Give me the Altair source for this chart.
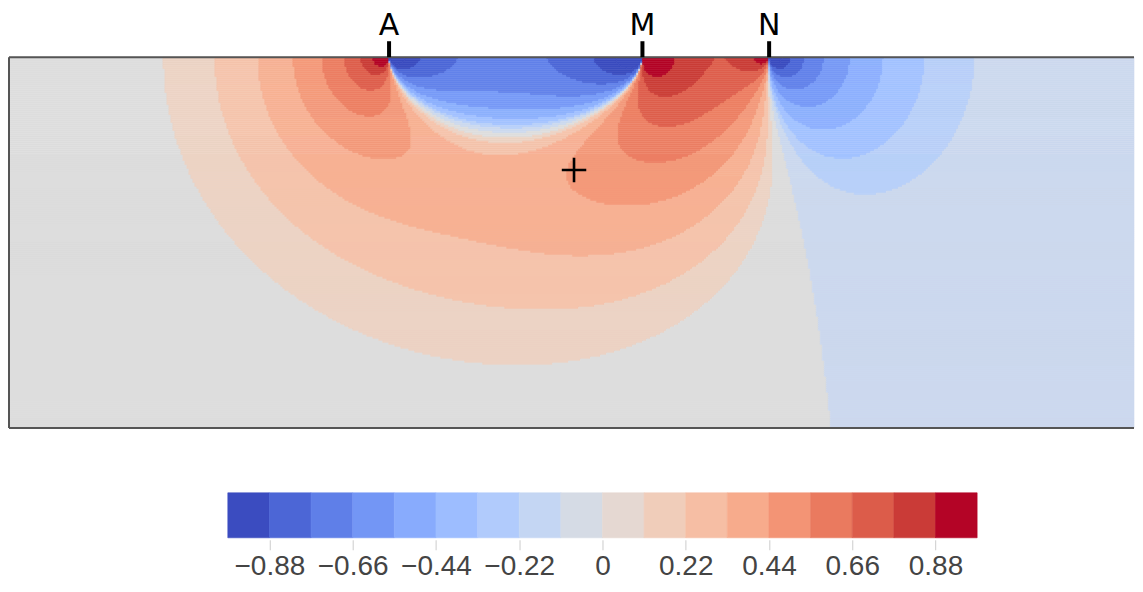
import json
import numpy as np
import pandas as pd
import altair as alt

# ---------------- data ----------------
ELECTRODE_X = [0.0, 2.0, 3.0]          # positions in electrode-spacing units
ELECTRODE_LABELS = ["A", "M", "N"]
SECTION_X_MIN = -3.0                    # left edge of the section
MARKER_X = [1.46]                       # the "+" marker
MARKER_Z = [-0.89]
# surface positions (left of A) where the colour steps to 1/9 and 2/9
ANCHOR_X = [-1.78, -1.32]
ANCHOR_LEVEL = [1 / 9, 2 / 9]
STEP_SCALE = 0.87                       # near-electrode colour steps read a bit tighter
N_BINS = 18
BAR_EDGES = [-1.0, -0.8889, -0.7778, -0.6667, -0.5556, -0.4444, -0.3333, -0.2222, -0.1111,
             0.0, 0.1111, 0.2222, 0.3333, 0.4444, 0.5556, 0.6667, 0.7778, 0.8889, 1.0]
TICK_VALUES = [-0.8889, -0.6667, -0.4444, -0.2222, 0.0, 0.2222, 0.4444, 0.6667, 0.8889]
TICK_LABELS = ["\u22120.88", "\u22120.66", "\u22120.44", "\u22120.22", "0", "0.22", "0.44", "0.66", "0.88"]

# ---------------- layout / style ----------------
W, H = 1126, 371          # plot area in px
K = 126.8                 # px per unit (isotropic)
CELL = 2                  # px per raster cell
xmin = SECTION_X_MIN
xmax = xmin + W / K
depth = H / K

COOLWARM = [
    (59, 76, 192), (68, 90, 204), (77, 104, 215), (87, 117, 225), (98, 130, 234),
    (108, 142, 241), (119, 154, 247), (130, 165, 251), (141, 176, 254), (152, 185, 255),
    (163, 194, 255), (174, 201, 253), (184, 208, 249), (194, 213, 244), (204, 217, 238),
    (213, 219, 230), (221, 221, 221), (229, 216, 209), (236, 211, 197), (241, 204, 184),
    (245, 196, 172), (247, 187, 160), (247, 177, 148), (247, 166, 135), (244, 154, 123),
    (241, 141, 111), (236, 127, 99), (229, 112, 88), (222, 96, 77), (213, 80, 66),
    (203, 62, 56), (192, 40, 47), (180, 4, 38)]


def coolwarm(p):
    p = min(max(p, 0.0), 1.0)
    t = np.linspace(0, 1, len(COOLWARM))
    arr = np.array(COOLWARM, dtype=float)
    rgb = [int(round(np.interp(p, t, arr[:, c]))) for c in range(3)]
    return "#%02x%02x%02x" % tuple(rgb)


LEVELS = list(range(-9, 9))
FIELD_COLORS = [coolwarm(0.5 + j / 16) for j in LEVELS]
BAR_COLORS = [coolwarm(i / 17) for i in range(N_BINS)]

# ---------------- sensitivity field (2.5D, pole-dipole A-MN) ----------------
xA, xM, xN = ELECTRODE_X
ys = np.concatenate([[0.0], np.logspace(-4, 2.6, 320)])


def sens(x, z):
    X = np.asarray(x, dtype=float)[:, None]
    q = ys[None, :] ** 2 + z ** 2
    dA, dM, dN = X - xA, X - xM, X - xN
    rA3 = (dA ** 2 + q) ** 1.5
    f = (dA * dM + q) / (rA3 * (dM ** 2 + q) ** 1.5) - (dA * dN + q) / (rA3 * (dN ** 2 + q) ** 1.5)
    return 2 * np.trapezoid(f, ys, axis=1)


# logarithmic colour steps, sign kept for values below the first step
S1 = sens([ANCHOR_X[0]], 0.004)[0]
S2 = sens([ANCHOR_X[1]], 0.004)[0]
step = np.log10(S2 / S1) * STEP_SCALE          # decades per colour step
tol = S1 / 10 ** (step * ANCHOR_LEVEL[0] * 9)  # value of level 0

xe = np.append(np.arange(0, W, CELL), W) / K + xmin
ze = np.append(np.arange(0, H, CELL), H) / K
xc = 0.5 * (xe[:-1] + xe[1:])
zc = 0.5 * (ze[:-1] + ze[1:])

rows = []
for i, z in enumerate(zc):
    s = sens(xc, z)
    mag = np.maximum(np.log10(np.maximum(np.abs(s), 1e-300) / tol) / step, 0.0)
    lv = np.where(s >= 0, np.floor(mag), -np.floor(mag) - 1)
    lv = np.clip(lv, -9, 8).astype(int)
    change = np.flatnonzero(np.diff(lv)) + 1
    starts = np.concatenate([[0], change])
    ends = np.concatenate([change, [len(lv)]])
    for a, b in zip(starts, ends):
        rows.append((xe[a], xe[b], -ze[i], -ze[i + 1], int(lv[a])))

field_df = pd.DataFrame(rows, columns=["x1", "x2", "z1", "z2", "level"])

xscale = alt.Scale(domain=[xmin, xmax], nice=False, zero=False)
yscale = alt.Scale(domain=[-depth, 0], nice=False, zero=False)
cscale = alt.Scale(domain=LEVELS, range=FIELD_COLORS)

field = alt.Chart(field_df).mark_rect(strokeWidth=0.6).encode(
    x=alt.X("x1:Q", scale=xscale, axis=None),
    x2="x2:Q",
    y=alt.Y("z1:Q", scale=yscale, axis=None),
    y2="z2:Q",
    color=alt.Color("level:O", scale=cscale, legend=None),
    stroke=alt.Stroke("level:O", scale=cscale, legend=None),
)

border_df = pd.DataFrame({
    "x": [xmin, xmin, xmin],
    "x2": [xmax, xmax, xmin],
    "y": [0.0, -depth, -depth],
    "y2": [0.0, -depth, 0.0],
})
border = alt.Chart(border_df).mark_rule(color="#555555", strokeWidth=2).encode(
    x="x:Q", x2="x2:Q", y="y:Q", y2="y2:Q")

elec_df = pd.DataFrame({"x": ELECTRODE_X, "z": [0.0] * 3, "label": ELECTRODE_LABELS})
elec_ticks = alt.Chart(elec_df).mark_rule(color="black", strokeWidth=4).encode(
    x="x:Q", y="z:Q", y2=alt.value(-16))
elec_text = alt.Chart(elec_df).mark_text(
    font="DejaVu Sans", fontSize=30, color="black", baseline="alphabetic", dy=-22
).encode(x="x:Q", y="z:Q", text="label:N")

marker_df = pd.DataFrame({"x": MARKER_X, "z": MARKER_Z})
marker = alt.Chart(marker_df).mark_point(
    shape="M-1,0L1,0M0,-1L0,1", size=600, strokeWidth=2.6, color="black", filled=False, opacity=1
).encode(x="x:Q", y="z:Q")

top = alt.layer(field, border, elec_ticks, elec_text, marker).properties(width=W, height=H)

# ---------------- colour bar ----------------
bar_px_left, bar_px_right = 219.0, 969.0   # where -1 and +1 sit inside the panel
upp = 2.0 / (bar_px_right - bar_px_left)
bx_min = -1.0 - bar_px_left * upp
bx_max = bx_min + W * upp

bar_df = pd.DataFrame({"lo": BAR_EDGES[:-1], "hi": BAR_EDGES[1:], "idx": list(range(N_BINS))})
bscale = alt.Scale(domain=list(range(N_BINS)), range=BAR_COLORS)
label_expr = json.dumps(TICK_LABELS, ensure_ascii=False) + "[round(datum.value*4.5)+4]"

bar = alt.Chart(bar_df).mark_rect(strokeWidth=0.6).encode(
    x=alt.X("lo:Q", scale=alt.Scale(domain=[bx_min, bx_max], nice=False, zero=False),
            axis=alt.Axis(values=TICK_VALUES, labelExpr=label_expr, domain=False, grid=False,
                          tickColor="#cccccc", tickSize=10, tickWidth=1, offset=2,
                          labelFont="Liberation Sans", labelFontSize=28, labelColor="#444444",
                          labelPadding=3, labelOverlap=False, title=None)),
    x2="hi:Q",
    y=alt.value(0),
    y2=alt.value(45),
    color=alt.Color("idx:O", scale=bscale, legend=None),
    stroke=alt.Stroke("idx:O", scale=bscale, legend=None),
).properties(width=W, height=45)

chart = alt.vconcat(top, bar, spacing=63).resolve_scale(
    color="independent", stroke="independent"
).properties(
    padding={"left": 0, "top": 3, "right": 0, "bottom": 0}
).configure_view(stroke=None)

chart.save("out.html", embed_options={"renderer": "svg", "actions": False})
